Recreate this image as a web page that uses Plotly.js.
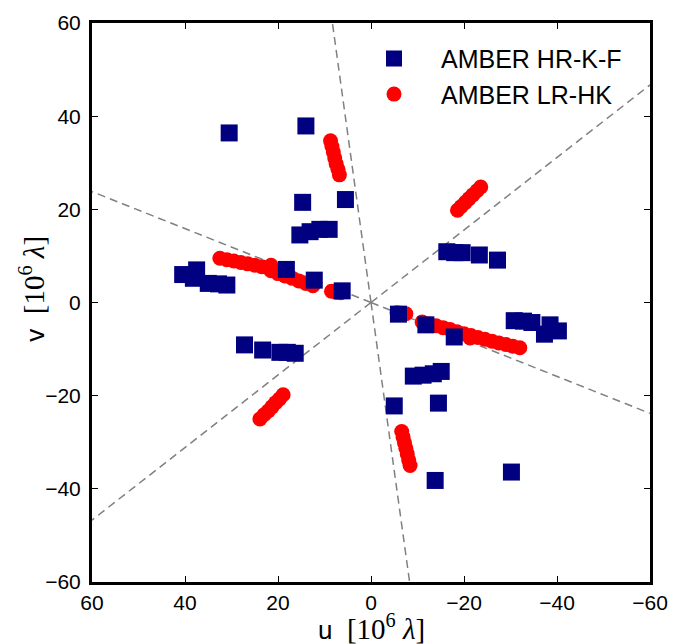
<!DOCTYPE html>
<html>
<head>
<meta charset="utf-8">
<script src="https://cdn.plot.ly/plotly-3.0.1.min.js"></script>
<style>html,body{margin:0;padding:0;background:#fff;}</style>
</head>
<body>
<div id="chart" style="width:673px;height:644px;"></div>
<script>
// AMBER HR-K-F (u, v) in 10^6 lambda
const hrU = [30.5, 14.0, 14.7, 5.5, 15.3, 13.1, 11.0, 9.0, 18.2, 12.2, 6.2,
  40.5, 38.2, 37.5, 35.0, 32.8, 31.0, 27.2, 23.3, 19.6, 18.0, 16.3,
  -27.2, -23.3, -19.6, -18.0, -16.3, -5.9, -11.8, -17.9,
  -30.8, -32.8, -34.6, -38.5, -37.3, -40.3,
  -9.1, -11.2, -13.4, -15.1, -5.0, -14.5, -13.8, -30.2];
const hrV = [36.4, 37.9, 21.5, 22.1, 14.5, 15.2, 15.7, 15.7, 7.1, 4.8, 2.5,
  6.0, 5.2, 7.0, 4.1, 4.0, 3.75, -9.1, -10.2, -10.7, -10.7, -10.9,
  9.1, 10.2, 10.7, 10.7, 10.9, -2.5, -4.8, -7.4,
  -3.9, -4.0, -4.3, -4.8, -6.8, -6.1,
  -15.8, -15.6, -15.3, -14.8, -22.2, -21.6, -38.2, -36.4];

// AMBER LR-HK (u, v) in 10^6 lambda
const lrU = [
  8.7, 8.4, 8.1, 7.8, 7.5, 7.1, 6.8,
  -6.6, -6.9, -7.2, -7.5, -7.8, -8.1, -8.4,
  -18.6, -19.4, -20.3, -21.1, -21.9, -22.8, -23.6,
  18.9, 19.7, 20.5, 21.3, 22.1, 23.0, 23.9,
  32.5, 31.0, 29.5, 28.0, 26.5, 25.0, 23.5, 22.0, 21.5,
  21.5, 20.0, 18.5, 17.0, 15.5, 14.0, 12.5,
  8.5, 7.5, 6.5,
  -5.6, -6.5, -7.5,
  -11.0, -12.5, -14.0, -15.5, -17.0, -18.5, -20.0, -21.3, -21.5, -23.0,
  -24.5, -26.0, -27.5, -29.0, -30.5, -32.0];
const lrV = [
  34.7, 33.5, 32.3, 31.0, 29.8, 28.6, 27.4,
  -27.7, -28.9, -30.1, -31.3, -32.5, -33.8, -35.0,
  19.8, 20.6, 21.5, 22.3, 23.1, 24.0, 24.8,
  -19.8, -20.7, -21.5, -22.4, -23.3, -24.1, -25.0,
  9.5, 9.2, 8.9, 8.6, 8.3, 8.0, 7.7, 7.4, 8.0,
  6.8, 6.2, 5.7, 5.2, 4.6, 4.1, 3.6,
  2.4, 2.2, 2.1,
  -2.2, -2.3, -2.4,
  -4.2, -4.6, -5.0, -5.4, -5.8, -6.3, -6.7, -7.6, -7.1, -7.5,
  -7.9, -8.3, -8.7, -9.0, -9.4, -9.7];

// dashed baseline directions (end points through the origin)
const dashU = [[8.3, -8.3], [60, -60], [60, -60]];
const dashV = [[60, -60], [23.8, -23.8], [-46.7, 46.7]];

const ticks = [60, 40, 20, 0, -20, -40, -60];

const traces = [];
dashU.forEach((u, i) => {
  traces.push({
    x: [0, u[0], null, 0, u[1]], y: [0, dashV[i][0], null, 0, dashV[i][1]],
    mode: 'lines', showlegend: false, hoverinfo: 'skip',
    line: {color: '#808080', width: 1.5, dash: '8px,5px'}
  });
});
traces.push({
  x: lrU, y: lrV, mode: 'markers', name: 'AMBER LR-HK', legendrank: 2,
  marker: {symbol: 'circle', size: 15, color: '#ff0000', line: {width: 0}}
});
traces.push({
  x: hrU, y: hrV, mode: 'markers', name: 'AMBER HR-K-F', legendrank: 1,
  marker: {symbol: 'square', size: 17, color: '#000080', line: {width: 0}}
});

const axisCommon = {
  tickvals: ticks, ticktext: ticks.map(t => t < 0 ? '\u2212' + Math.abs(t) : String(t)),
  ticks: 'inside', ticklen: 6, tickwidth: 1, tickcolor: '#000',
  showline: true, linecolor: '#000', linewidth: 3, mirror: 'ticks',
  showgrid: false, zeroline: false,
  tickfont: {family: 'Liberation Sans, Arial, sans-serif', size: 21, color: '#000'}
};

const serif = '<span style="font-family:Liberation Serif, DejaVu Serif, serif;font-size:29px">[10<sup>6</sup> <i>λ</i>]</span>';

const layout = {
  width: 673, height: 644,
  margin: {l: 92, r: 23, t: 23, b: 62},
  paper_bgcolor: '#fff', plot_bgcolor: '#fff',
  showlegend: true,
  legend: {
    x: 0.457, y: 0.977, xanchor: 'left', yanchor: 'top',
    bgcolor: 'rgba(0,0,0,0)', borderwidth: 0,
    itemwidth: 84,
    font: {family: 'Liberation Sans, Arial, sans-serif', size: 25, color: '#000'}
  },
  xaxis: Object.assign({}, axisCommon, {range: [60, -60], ticklabelstandoff: 0}),
  yaxis: Object.assign({}, axisCommon, {range: [-60, 60], ticklabelstandoff: 4}),
  annotations: [
    {xref: 'paper', yref: 'paper', x: 0.5, y: -0.08, yanchor: 'middle', showarrow: false,
     text: 'u  ' + serif,
     font: {family: 'Liberation Sans, Arial, sans-serif', size: 26, color: '#000'}},
    {xref: 'paper', yref: 'paper', x: -0.109, y: 0.525, xanchor: 'center', yanchor: 'middle', showarrow: false, textangle: -90,
     text: 'v  ' + serif,
     font: {family: 'Liberation Sans, Arial, sans-serif', size: 26, color: '#000'}}
  ]
};

Plotly.newPlot('chart', traces, layout, {displayModeBar: false, staticPlot: true});
</script>
</body>
</html>
